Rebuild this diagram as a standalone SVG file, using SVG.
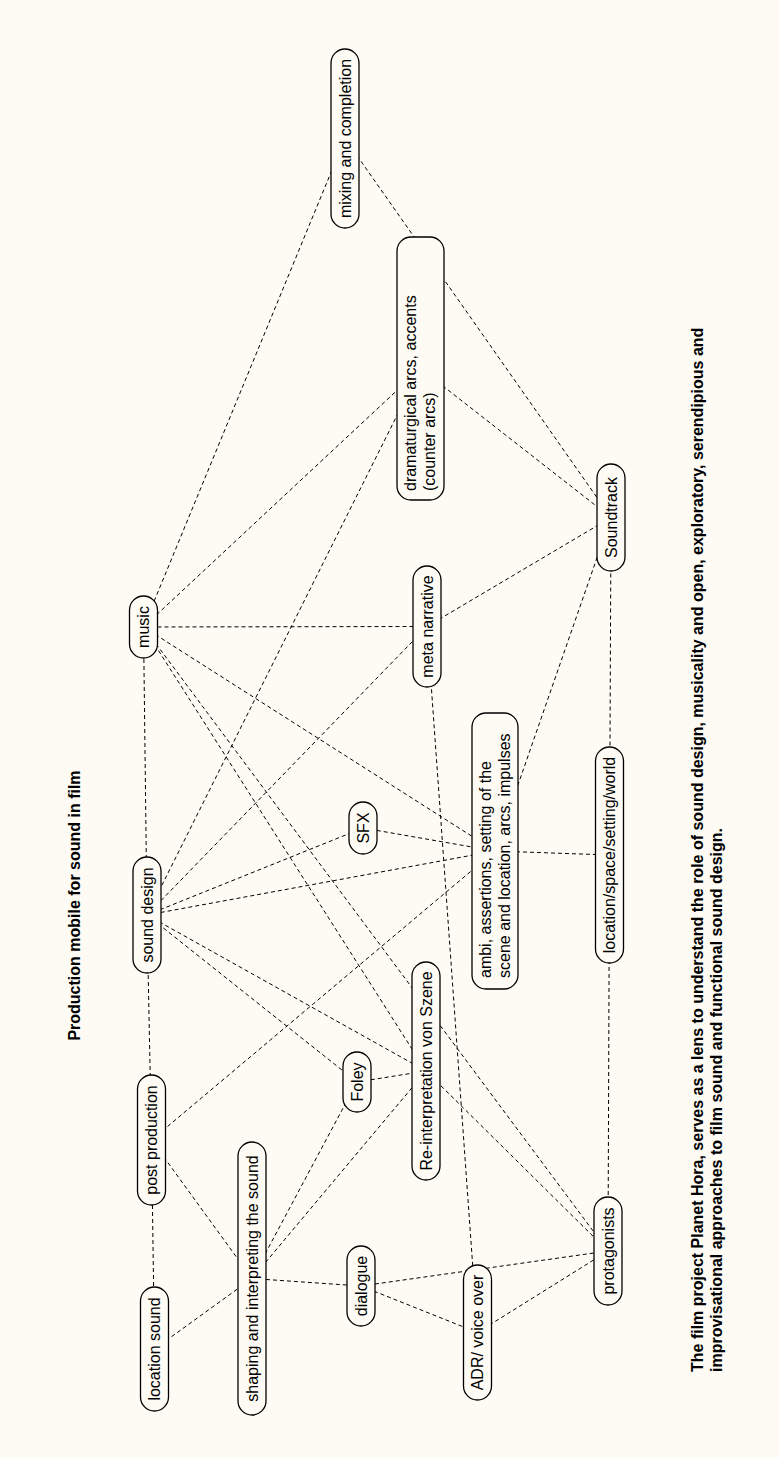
<svg xmlns="http://www.w3.org/2000/svg" width="779" height="1458" viewBox="0 0 779 1458">
<style>
.bg{fill:#fdfbf4}
.e line{stroke:#000;stroke-width:1;stroke-dasharray:4 3;fill:none}
.n rect{fill:#fdfbf4;stroke:#000;stroke-width:1.3}
.n text{font-family:"Liberation Sans",Arial,sans-serif;font-size:16px;fill:#000}
.c{text-anchor:middle}
.t{font-family:"Liberation Sans",Arial,sans-serif;font-size:16px;font-weight:bold;fill:#000}
</style>
<rect class="bg" x="0" y="0" width="779" height="1458"/>
<g id="connectors" class="e">
<line x1="154.5" y1="1349" x2="151.5" y2="1140"/>
<line x1="151.5" y1="1140" x2="147" y2="915"/>
<line x1="147" y1="915" x2="143.5" y2="627"/>
<line x1="143.5" y1="627" x2="345" y2="138.5"/>
<line x1="345" y1="138.5" x2="611" y2="517.5"/>
<line x1="420.5" y1="368.5" x2="611" y2="517.5"/>
<line x1="420.5" y1="368.5" x2="143.5" y2="627"/>
<line x1="420.5" y1="368.5" x2="147" y2="915"/>
<line x1="143.5" y1="627" x2="427" y2="626.5"/>
<line x1="427" y1="626.5" x2="611" y2="517.5"/>
<line x1="427" y1="626.5" x2="147" y2="915"/>
<line x1="427" y1="626.5" x2="477.5" y2="1332.5"/>
<line x1="611" y1="517.5" x2="609.5" y2="855"/>
<line x1="611" y1="517.5" x2="495" y2="851"/>
<line x1="495" y1="851" x2="609.5" y2="855"/>
<line x1="609.5" y1="855" x2="608" y2="1251"/>
<line x1="363" y1="828" x2="495" y2="851"/>
<line x1="147" y1="915" x2="363" y2="828"/>
<line x1="147" y1="915" x2="495" y2="851"/>
<line x1="147" y1="915" x2="426" y2="1071"/>
<line x1="147" y1="915" x2="357" y2="1082"/>
<line x1="151.5" y1="1140" x2="495" y2="851"/>
<line x1="151.5" y1="1140" x2="252" y2="1278.5"/>
<line x1="154.5" y1="1349" x2="252" y2="1278.5"/>
<line x1="252" y1="1278.5" x2="357" y2="1082"/>
<line x1="252" y1="1278.5" x2="426" y2="1071"/>
<line x1="252" y1="1278.5" x2="361" y2="1286"/>
<line x1="361" y1="1286" x2="477.5" y2="1332.5"/>
<line x1="361" y1="1286" x2="608" y2="1251"/>
<line x1="477.5" y1="1332.5" x2="608" y2="1251"/>
<line x1="357" y1="1082" x2="426" y2="1071"/>
<line x1="426" y1="1071" x2="608" y2="1251"/>
<line x1="143.5" y1="627" x2="495" y2="851"/>
<line x1="143.5" y1="627" x2="426" y2="1071"/>
<line x1="143.5" y1="627" x2="608" y2="1251"/>
</g>
<g id="mixing" class="n"><rect x="331" y="49" width="28" height="179" rx="14"/><text class="c" transform="translate(345,138.5) rotate(-90)" y="5.5">mixing and completion</text></g>
<g id="dramaturgical" class="n"><rect x="397" y="237" width="47" height="263" rx="14"/><text transform="translate(420.5,368.5) rotate(-90)"><tspan x="-122.5" y="-4.5">dramaturgical arcs, accents</tspan><tspan x="-122.5" y="14.5">(counter arcs)</tspan></text></g>
<g id="music" class="n"><rect x="129.5" y="596" width="28" height="62" rx="14"/><text class="c" transform="translate(143.5,627) rotate(-90)" y="5.5">music</text></g>
<g id="meta" class="n"><rect x="413" y="566" width="28" height="121" rx="14"/><text class="c" transform="translate(427,626.5) rotate(-90)" y="5.5">meta narrative</text></g>
<g id="soundtrack" class="n"><rect x="597" y="464" width="28" height="107" rx="14"/><text class="c" transform="translate(611,517.5) rotate(-90)" y="5.5">Soundtrack</text></g>
<g id="sounddesign" class="n"><rect x="133" y="857" width="28" height="116" rx="14"/><text class="c" transform="translate(147,915) rotate(-90)" y="5.5">sound design</text></g>
<g id="sfx" class="n"><rect x="349" y="802" width="28" height="52" rx="14"/><text class="c" transform="translate(363,828) rotate(-90)" y="5.5">SFX</text></g>
<g id="ambi" class="n"><rect x="472" y="713" width="46" height="276" rx="14"/><text transform="translate(495,851) rotate(-90)"><tspan x="-127" y="-4.5">ambi, assertions, setting of the</tspan><tspan x="-127" y="14.5">scene and location, arcs, impulses</tspan></text></g>
<g id="locationworld" class="n"><rect x="595.5" y="747" width="28" height="216" rx="14"/><text class="c" transform="translate(609.5,855) rotate(-90)" y="5.5">location/space/setting/world</text></g>
<g id="reinterpretation" class="n"><rect x="412" y="962" width="28" height="218" rx="14"/><text class="c" transform="translate(426,1071) rotate(-90)" y="5.5">Re-interpretation von Szene</text></g>
<g id="postproduction" class="n"><rect x="137.5" y="1075" width="28" height="130" rx="14"/><text class="c" transform="translate(151.5,1140) rotate(-90)" y="5.5">post production</text></g>
<g id="foley" class="n"><rect x="343" y="1052" width="28" height="60" rx="14"/><text class="c" transform="translate(357,1082) rotate(-90)" y="5.5">Foley</text></g>
<g id="shaping" class="n"><rect x="238" y="1142" width="28" height="273" rx="14"/><text class="c" transform="translate(252,1278.5) rotate(-90)" y="5.5">shaping and interpreting the sound</text></g>
<g id="locationsound" class="n"><rect x="140.5" y="1287" width="28" height="124" rx="14"/><text class="c" transform="translate(154.5,1349) rotate(-90)" y="5.5">location sound</text></g>
<g id="dialogue" class="n"><rect x="347" y="1246" width="28" height="80" rx="14"/><text class="c" transform="translate(361,1286) rotate(-90)" y="5.5">dialogue</text></g>
<g id="adr" class="n"><rect x="463.5" y="1265" width="28" height="135" rx="14"/><text class="c" transform="translate(477.5,1332.5) rotate(-90)" y="5.5">ADR/ voice over</text></g>
<g id="protagonists" class="n"><rect x="594" y="1197" width="28" height="108" rx="14"/><text class="c" transform="translate(608,1251) rotate(-90)" y="5.5">protagonists</text></g>
<text class="t" text-anchor="middle" transform="translate(80,905.5) rotate(-90)">Production mobile for sound in film</text>
<text class="t" transform="translate(703,1372) rotate(-90)"><tspan x="0" y="0">The film project Planet Hora, serves as a lens to understand the role of sound design, musicality and open, exploratory, serendipious and</tspan><tspan x="0" y="19">improvisational approaches to film sound and functional sound design.</tspan></text>
</svg>
